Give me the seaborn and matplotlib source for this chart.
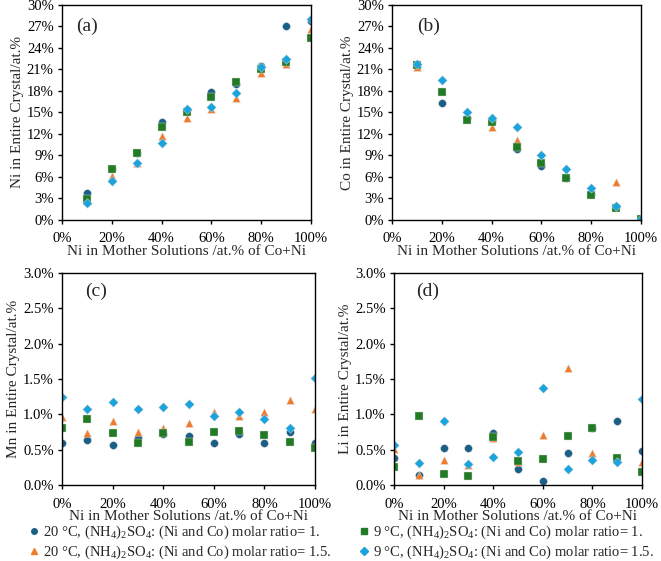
import pandas as pd
import numpy as np
import seaborn as sns
import matplotlib.pyplot as plt
from matplotlib.ticker import PercentFormatter

# x values (Ni in mother solution, %)
x_ac = [10, 20, 30, 40, 50, 60, 70, 80, 90, 100]
x_cd = [0, 10, 20, 30, 40, 50, 60, 70, 80, 90, 100]

# series order: 20C r=1, 20C r=1.5, 9C r=1, 9C r=1.5
ni_20_1 = [3.8, 7.1, 9.4, 13.7, 15.3, 17.9, 19.0, 21.5, 27.0, 27.8]
ni_20_15 = [2.7, 6.1, 7.9, 11.7, 14.2, 15.5, 17.0, 20.5, 21.7, 26.7]
ni_9_1 = [2.9, 7.1, 9.4, 13.0, 15.1, 17.1, 19.2, 21.1, 22.0, 25.4]
ni_9_15 = [2.4, 5.5, 7.9, 10.8, 15.5, 15.7, 17.7, 21.3, 22.5, 28.0]

co_20_1 = [21.5, 16.3, 14.3, 13.8, 9.9, 7.6, 5.9, 3.6, 1.8, 0.1]
co_20_15 = [21.3, 18.0, 14.5, 13.0, 11.1, 8.4, 6.4, 4.2, 5.3, 0.1]
co_9_1 = [21.6, 17.9, 14.0, 13.7, 10.2, 7.9, 5.8, 3.5, 1.7, 0.1]
co_9_15 = [21.7, 19.5, 15.1, 14.2, 13.0, 9.1, 7.1, 4.5, 2.0, 0.1]

mn_20_1 = [0.59, 0.64, 0.56, 0.66, 0.72, 0.69, 0.60, 0.72, 0.60, 0.75, 0.60]
mn_20_15 = [0.96, 0.73, 0.90, 0.75, 0.81, 0.88, 1.04, 0.98, 1.04, 1.20, 1.07]
mn_9_1 = [0.81, 0.93, 0.73, 0.60, 0.73, 0.61, 0.75, 0.76, 0.71, 0.61, 0.53]
mn_9_15 = [1.25, 1.08, 1.18, 1.07, 1.10, 1.15, 0.97, 1.03, 0.94, 0.81, 1.52]

li_20_1 = [0.38, 0.14, 0.53, 0.53, 0.74, 0.22, 0.05, 0.45, 0.80, 0.91, 0.48]
li_20_15 = [0.51, 0.14, 0.36, 0.28, 0.66, 0.32, 0.71, 1.65, 0.45, 0.37, 0.32]
li_9_1 = [0.26, 0.97, 0.15, 0.13, 0.68, 0.34, 0.37, 0.70, 0.81, 0.38, 0.19]
li_9_15 = [0.56, 0.31, 0.91, 0.30, 0.40, 0.47, 1.37, 0.23, 0.35, 0.33, 1.21]

labels = [
    r"20 °C, (NH$_4$)$_2$SO$_4$: (Ni and Co) molar ratio= 1.",
    r"20 °C, (NH$_4$)$_2$SO$_4$: (Ni and Co) molar ratio= 1.5.",
    r"9 °C, (NH$_4$)$_2$SO$_4$: (Ni and Co) molar ratio= 1.",
    r"9 °C, (NH$_4$)$_2$SO$_4$: (Ni and Co) molar ratio= 1.5.",
]
colors = ['#1B5F86', '#F07B2C', '#217A24', '#1AA3DD']
markers = ['o', '^', 's', 'D']
sizes = [32, 32, 32, 24]

sns.set_style('white')
plt.rcParams['font.family'] = ['Liberation Serif', 'DejaVu Serif']
plt.rcParams['mathtext.fontset'] = 'custom'
plt.rcParams['mathtext.rm'] = 'Liberation Serif'
plt.rcParams['mathtext.it'] = 'Liberation Serif'


def make_df(x, series):
    frames = []
    for lab, vals in zip(labels, series):
        frames.append(pd.DataFrame({'x': x, 'y': vals, 'series': lab}))
    return pd.concat(frames, ignore_index=True)


# tag, y label, x, series, ymax, ystep, decimals, box (px), tag pos
panels = [
    ('(a)', 'Ni in Entire Crystal/at.%', x_ac, [ni_20_1, ni_20_15, ni_9_1, ni_9_15], 30, 3, 0,
     [62, 5, 311, 220], (0.10, 0.90)),
    ('(b)', 'Co in Entire Crystal/at.%', x_ac, [co_20_1, co_20_15, co_9_1, co_9_15], 30, 3, 0,
     [392, 5, 641, 220], (0.145, 0.90)),
    ('(c)', 'Mn in Entire Crystal/at.%', x_cd, [mn_20_1, mn_20_15, mn_9_1, mn_9_15], 3.0, 0.5, 1,
     [62, 273, 315, 485], (0.135, 0.915)),
    ('(d)', 'Li in Entire Crystal/at.%', x_cd, [li_20_1, li_20_15, li_9_1, li_9_15], 3.0, 0.5, 1,
     [394, 273, 642, 485], (0.137, 0.915)),
]

W, H = 661, 561
fig = plt.figure(figsize=(6.61, 5.61), dpi=100)

for tag, ylab, x, series, ymax, ystep, dec, box, tpos in panels:
    l, t, r, b = box
    ax = fig.add_axes([l / W, 1 - b / H, (r - l) / W, (b - t) / H])
    df = make_df(x, series)
    for i, lab in enumerate(labels):
        sub = df[df['series'] == lab]
        sns.scatterplot(data=sub, x='x', y='y', ax=ax, color=colors[i], marker=markers[i],
                        s=sizes[i], linewidth=0.3, edgecolor='#dddddd', legend=False)
    ax.set_xlim(0, 100)
    ax.set_ylim(0, ymax)
    ax.set_xticks(np.arange(0, 101, 20))
    ax.set_yticks(np.arange(0, ymax + ystep / 2, ystep))
    ax.xaxis.set_major_formatter(PercentFormatter(decimals=0))
    ax.yaxis.set_major_formatter(PercentFormatter(decimals=dec))
    ax.tick_params(axis='both', direction='out', length=3, width=1, labelsize=10.5,
                   bottom=True, left=True, colors='black')
    ax.tick_params(axis='x', pad=6)
    ax.tick_params(axis='y', pad=3)
    for sp in ax.spines.values():
        sp.set_color('black')
        sp.set_linewidth(1)
    ax.set_xlabel('Ni in Mother Solutions /at.% of Co+Ni', fontsize=11, labelpad=0)
    ax.set_ylabel(ylab, fontsize=11, labelpad=2)
    ax.text(tpos[0], tpos[1], tag, transform=ax.transAxes, fontsize=14,
            ha='center', va='center')

handles = [plt.Line2D([], [], linestyle='none', marker=m, color=c, markersize=4)
           for m, c in zip(markers, colors)]
leg_kw = dict(frameon=False, fontsize=10.5, handletextpad=0.2, labelspacing=0.15,
              handlelength=0.8, borderpad=0, borderaxespad=0, loc='upper left')
leg1 = fig.legend(handles[:2], labels[:2], bbox_to_anchor=(28 / W, 1 - 524 / H), **leg_kw)
leg2 = fig.legend(handles[2:], labels[2:], bbox_to_anchor=(358 / W, 1 - 524 / H), **leg_kw)

fig.savefig('out.png', dpi=100)
